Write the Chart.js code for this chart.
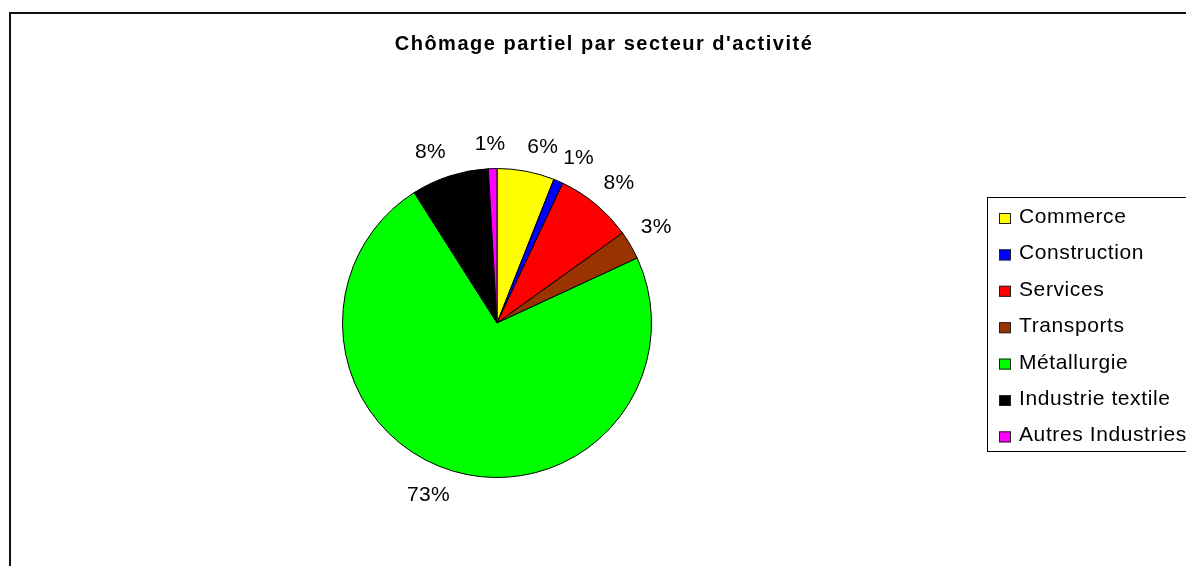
<!DOCTYPE html>
<html>
<head>
<meta charset="utf-8">
<script src="https://cdn.jsdelivr.net/npm/chart.js@4/dist/chart.umd.min.js"></script>
<style>
  html, body { margin: 0; padding: 0; background: #fff; }
  #wrap { width: 1186px; height: 566px; position: relative; }
</style>
</head>
<body>
<div id="wrap"><canvas id="c" width="1186" height="566"></canvas></div>
<script>
const title = "Chômage partiel par secteur d'activité";
const categories = ['Commerce', 'Construction', 'Services', 'Transports', 'Métallurgie', 'Industrie textile', 'Autres Industries'];
const shares = [6.0, 1.0, 8.1, 3.0, 72.9, 8.1, 0.9];
const colors = ['#ffff00', '#0000ff', '#ff0000', '#993300', '#00ff00', '#000000', '#ff00ff'];

const FONT = '"Liberation Sans", Arial, sans-serif';
const clamp = (v) => Math.max(-1, Math.min(1, v));

// frame, title, outside percentage labels and the boxed legend
const decorations = {
  id: 'decorations',
  afterDraw(chart) {
    const { ctx } = chart;
    ctx.save();

    // outer frame (cut off at right and bottom like the source)
    ctx.strokeStyle = '#111';
    ctx.lineWidth = 2;
    ctx.beginPath();
    ctx.moveTo(10, 580);
    ctx.lineTo(10, 13);
    ctx.lineTo(1200, 13);
    ctx.stroke();

    // title
    ctx.fillStyle = '#000';
    ctx.font = 'bold 20px ' + FONT;
    ctx.textAlign = 'center';
    ctx.textBaseline = 'middle';
    const w = ctx.measureText(title).width;
    ctx.letterSpacing = ((417 - w) / (title.length - 1)).toFixed(2) + 'px';
    ctx.fillText(title, 604, 44);

    // percentage labels, box pushed away from the pie
    const data = chart.data.datasets[0].data;
    const total = data.reduce((a, b) => a + b, 0);
    ctx.font = '21px ' + FONT;
    ctx.letterSpacing = '0.3px';
    chart.getDatasetMeta(0).data.forEach((arc, i) => {
      const { x, y, startAngle, endAngle, outerRadius } = arc.getProps(['x', 'y', 'startAngle', 'endAngle', 'outerRadius'], true);
      const mid = (startAngle + endAngle) / 2;
      const dx = Math.cos(mid), dy = Math.sin(mid);
      const r = outerRadius + 12;
      const pct = Math.round(data[i] / total * 100) + '%';
      const tw = ctx.measureText(pct).width, th = 24;
      ctx.fillText(pct, x + dx * r + clamp(dx * 5) * tw / 2, y + dy * r + clamp(dy * 5) * th / 2);
    });

    // legend
    ctx.lineWidth = 1;
    ctx.strokeStyle = '#000';
    ctx.strokeRect(987.5, 197.5, 240, 254);
    ctx.textAlign = 'left';
    ctx.textBaseline = 'alphabetic';
    ctx.font = '21px ' + FONT;
    ctx.letterSpacing = '0.6px';
    categories.forEach((name, i) => {
      const base = 223 + i * 36.4;
      ctx.fillStyle = colors[i];
      ctx.fillRect(999, base - 10, 12, 11);
      ctx.strokeStyle = '#222';
      ctx.strokeRect(999.5, base - 9.5, 11, 10);
      ctx.fillStyle = '#000';
      ctx.fillText(name, 1019, base);
    });

    ctx.restore();
  }
};

new Chart(document.getElementById('c'), {
  type: 'pie',
  data: {
    labels: categories,
    datasets: [{
      data: shares,
      backgroundColor: colors,
      borderColor: '#000',
      borderWidth: 1,
    }]
  },
  options: {
    responsive: false,
    animation: false,
    layout: {
      padding: { left: 342, right: 534, top: 167, bottom: 87 }
    },
    plugins: {
      legend: { display: false },
      title: { display: false },
      tooltip: { enabled: false },
    },
  },
  plugins: [decorations],
});
</script>
</body>
</html>
